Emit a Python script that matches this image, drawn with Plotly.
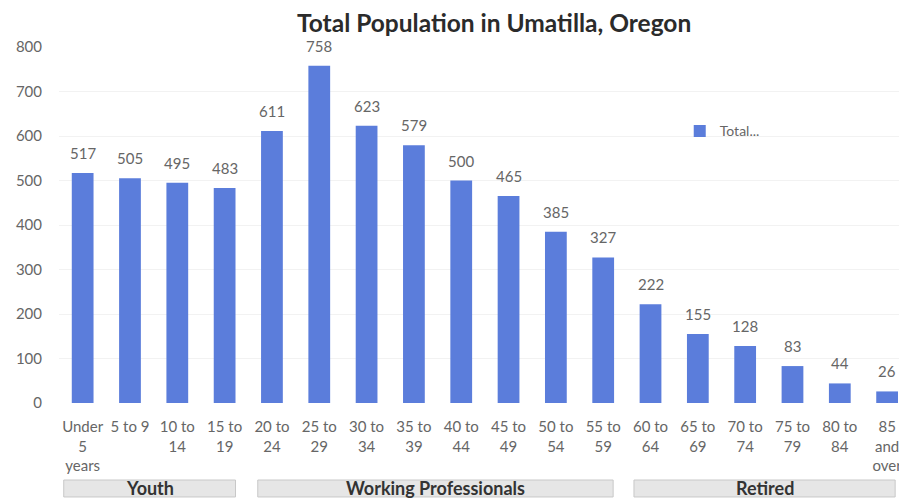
import plotly.graph_objects as go

categories = ["Under<br>5<br>years", "5 to 9", "10 to<br>14", "15 to<br>19", "20 to<br>24", "25 to<br>29",
              "30 to<br>34", "35 to<br>39", "40 to<br>44", "45 to<br>49", "50 to<br>54", "55 to<br>59",
              "60 to<br>64", "65 to<br>69", "70 to<br>74", "75 to<br>79", "80 to<br>84", "85<br>and<br>over"]
values = [517, 505, 495, 483, 611, 758, 623, 579, 500, 465, 385, 327, 222, 155, 128, 83, 44, 26]
y_ticks = [0, 100, 200, 300, 400, 500, 600, 700, 800]
groups = ["Youth", "Working Professionals", "Retired"]
group_spans = [(-0.4, 3.23), (3.70, 11.21), (11.65, 17.17)]

FONT = "Lato"
xs = list(range(len(categories)))

fig = go.Figure()
fig.add_trace(go.Bar(
    x=xs, y=values, name="Total...", width=0.46,
    marker=dict(color="#5b7ddb", line=dict(width=0)),
    showlegend=True,
))

shapes = []
annotations = []
for x, v in zip(xs, values):
    annotations.append(dict(xref="x", yref="y", x=x, y=v, text=str(v), showarrow=False,
                            yanchor="bottom", yshift=9,
                            font=dict(size=15, color="#666666", family=FONT)))
for g, (a, b) in zip(groups, group_spans):
    shapes.append(dict(type="rect", xref="x", yref="paper", x0=a, x1=b, y0=-0.264, y1=-0.2163,
                       fillcolor="#e6e6e6", line=dict(color="#c8c8c8", width=1), layer="below"))
    annotations.append(dict(xref="x", yref="paper", x=(a + b) / 2, y=-0.240, text="<b>%s</b>" % g,
                            showarrow=False, font=dict(size=18, color="#333333", family=FONT),
                            yanchor="middle"))

fig.update_layout(
    width=907, height=502,
    margin=dict(l=44, r=8, t=39, b=107),
    paper_bgcolor="white", plot_bgcolor="white",
    title=dict(text="<b>Total Population in Umatilla, Oregon</b>", x=0.536, xanchor="center",
               y=0.969, yanchor="middle", font=dict(size=24.5, color="#2b2b2b", family=FONT)),
    xaxis=dict(tickmode="array", tickvals=xs, ticktext=categories, range=[-0.5, 17.42],
               tickfont=dict(size=15, color="#666666", family=FONT), showgrid=False,
               showline=False, ticks="outside", ticklen=10, tickcolor="rgba(0,0,0,0)"),
    yaxis=dict(range=[0, 800], tickvals=y_ticks, tickfont=dict(size=15, color="#666666", family=FONT),
               showgrid=True, gridcolor="#f2f2f2", zeroline=False, ticks="outside", ticklen=13,
               tickcolor="rgba(0,0,0,0)"),
    legend=dict(x=0.732, y=0.763, xanchor="left", yanchor="middle", bgcolor="rgba(0,0,0,0)",
                font=dict(size=14, color="#666666", family=FONT)),
    shapes=shapes, annotations=annotations,
)

fig.write_html("out.html")
